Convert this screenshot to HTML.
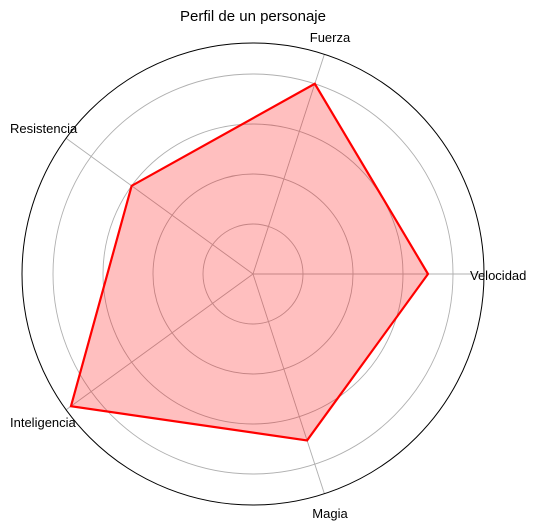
<!DOCTYPE html>
<html><head><meta charset="utf-8">
<style>
html,body{margin:0;padding:0;background:#fff;}
svg{display:block;font-family:"Liberation Sans",sans-serif;}
</style></head>
<body>
<svg id="chart" width="546" height="530"></svg>
<script>
const categories = ["Velocidad","Fuerza","Resistencia","Inteligencia","Magia"];
const values = [7,8,6,9,7];
const gridTicks = [2,4,6,8];
const rMax = 9.24;

const NS = "http://www.w3.org/2000/svg";
const svg = document.getElementById("chart");
const cx = 253, cy = 274, R = 231;
const rs = v => v / rMax * R;
const ang = i => i * 2 * Math.PI / categories.length;
const px = (i, v) => cx + rs(v) * Math.cos(ang(i));
const py = (i, v) => cy - rs(v) * Math.sin(ang(i));
function mk(tag, attrs, parent) {
  const e = document.createElementNS(NS, tag);
  for (const k in attrs) e.setAttribute(k, attrs[k]);
  (parent || svg).appendChild(e);
  return e;
}

const title = mk("text", {x: cx, y: 21, "text-anchor": "middle", "font-size": 15, fill: "#000"});


title.textContent = "Perfil de un personaje";

gridTicks.forEach(t => {
  const c = mk("circle", {cx, cy, r: rs(t), fill: "none", stroke: "#b0b0b0", "stroke-width": 0.9});
  
  
});
categories.forEach((c, i) => {
  const l = mk("line", {x1: cx, y1: cy, x2: px(i, rMax), y2: py(i, rMax), stroke: "#b0b0b0", "stroke-width": 0.9});
  
  
});

const pts = values.map((v, i) => px(i, v) + "," + py(i, v)).join(" ");
const fill = mk("polygon", {points: pts, fill: "rgba(255,0,0,0.25)", stroke: "none"});


const line = mk("polygon", {points: pts, fill: "none", stroke: "#ff0000", "stroke-width": 2.2, "stroke-linejoin": "miter"});



const outer = mk("circle", {cx, cy, r: R, fill: "none", stroke: "#000", "stroke-width": 1});



const labelPos = [[470,280,"start"],[330,42,"middle"],[10,133,"start"],[10,427,"start"],[330,518,"middle"]];
categories.forEach((c, i) => {
  const p = labelPos[i];
  const t = mk("text", {x: p[0], y: p[1], "text-anchor": p[2], "font-size": 13, fill: "#000"});
  
  
  t.textContent = c;
});
</script>
</body></html>
